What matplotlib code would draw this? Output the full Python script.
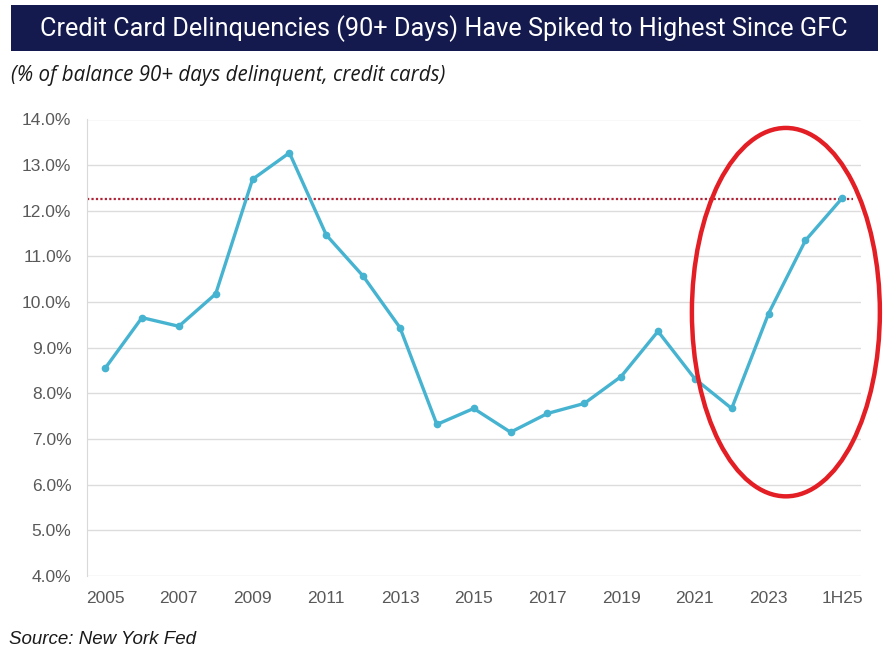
import matplotlib
matplotlib.use("Agg")
import matplotlib.pyplot as plt
from matplotlib.patches import Ellipse, Rectangle
from matplotlib.ticker import FuncFormatter

# data (% of balance 90+ days delinquent)
years = ["2005", "2006", "2007", "2008", "2009", "2010", "2011", "2012", "2013",
         "2014", "2015", "2016", "2017", "2018", "2019", "2020", "2021", "2022",
         "2023", "2024", "1H25"]
delinq = [8.55, 9.66, 9.47, 10.18, 12.69, 13.27, 11.47, 10.57, 9.44,
          7.32, 7.67, 7.15, 7.56, 7.78, 8.37, 9.36, 8.32, 7.67,
          9.75, 11.35, 12.28]
latest_level = 12.26

title = "Credit Card Delinquencies (90+ Days) Have Spiked to Highest Since GFC"
subtitle = "(% of balance 90+ days delinquent, credit cards)"
source = "Source: New York Fed"

fig = plt.figure(figsize=(8.93, 6.55), dpi=100)
plt.rcParams["font.family"] = ["Liberation Sans", "DejaVu Sans"]

# navy title banner
fig.patches.append(Rectangle((11 / 893, 1 - 51 / 655), 867 / 893, 46 / 655,
                             transform=fig.transFigure, facecolor="#141a4e",
                             edgecolor="none", zorder=0))
fig.text(444 / 893, 1 - 29 / 655, title, color="white", fontsize=18.2,
         family="Roboto", ha="center", va="center")
fig.text(11 / 893, 1 - 75 / 655, subtitle, fontsize=14.8, style="italic",
         family="Open Sans", color="#1a1a1a", ha="left", va="center")
fig.text(9 / 893, 1 - 640 / 655, source, fontsize=13.5, style="italic",
         color="#1a1a1a", ha="left", va="center")

ax = fig.add_axes([86.7 / 893, 1 - 576 / 655, 774 / 893, 456.5 / 655])
x = list(range(len(years)))
ax.plot(x, delinq, color="#46b3d1", lw=2.4, marker="o", ms=4.5, zorder=3)
ax.hlines(latest_level, -0.5, 20.3, colors="#b22234", linestyles=(0, (1, 1)),
          lw=1.6, zorder=2)

ax.set_xlim(-0.5, len(years) - 0.5)
ax.set_ylim(4, 14)
ax.set_yticks([4 + i for i in range(11)])
ax.yaxis.set_major_formatter(FuncFormatter(lambda v, p: f"{v:.1f}%"))
ax.set_xticks(x[::2])
ax.set_xticklabels(years[::2])
ax.grid(axis="y", color="#dcdcdc", lw=1)
ax.set_axisbelow(True)
for s in ["top", "right", "bottom"]:
    ax.spines[s].set_visible(False)
ax.spines["left"].set_color("#d9d9d9")
ax.tick_params(length=0, labelsize=12.5, colors="#595959")
ax.tick_params(axis="y", pad=11)
ax.tick_params(axis="x", pad=11)

# red circle around the recent spike
ax.add_patch(Ellipse((18.47, 9.78), 5.1, 8.07, fill=False, edgecolor="#e31e24",
                     lw=3.2, clip_on=False, zorder=4))

fig.savefig("out.png", dpi=100, facecolor="white")
